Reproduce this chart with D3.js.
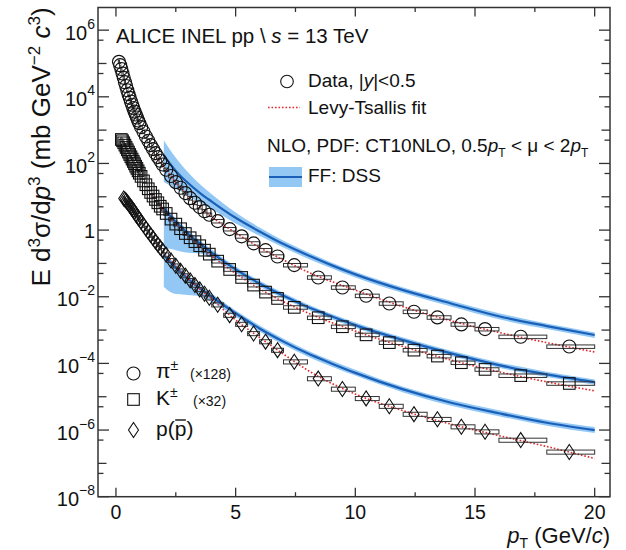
<!DOCTYPE html>
<html>
<head>
<meta charset="utf-8">
<script src="https://cdn.jsdelivr.net/npm/d3@7"></script>
<style>
body { margin: 0; background: #fff; }
svg { font-family: "Liberation Sans", Arial, sans-serif; }
</style>
</head>
<body>
<div id="chart"></div>
<script>
// mean pT of each bin (GeV/c), shared by the three species
const pt = [0.125,0.175,0.225,0.275,0.325,0.375,0.425,0.475,0.525,0.575,0.625,0.675,0.725,0.775,0.825,0.875,0.925,0.975,
  1.05,1.15,1.25,1.35,1.45,1.55,1.65,1.75,1.85,1.95,
  2.1,2.3,2.5,2.7,2.9,3.1,3.3,3.5,3.7,3.9,
  4.25,4.75,5.25,5.75,6.25,6.75,7.45,
  8.45,9.46,10.45,11.42,12.45,13.43,14.43,15.42,16.91,18.94]
const binEdges = [0.1,0.15,0.2,0.25,0.3,0.35,0.4,0.45,0.5,0.55,0.6,0.65,0.7,0.75,0.8,0.85,0.9,0.95,1.0,
  1.1,1.2,1.3,1.4,1.5,1.6,1.7,1.8,1.9,2.0,
  2.2,2.4,2.6,2.8,3.0,3.2,3.4,3.6,3.8,4.0,
  4.5,5.0,5.5,6.0,6.5,7.0,8.0,
  9,10,11,12,13,14,15,16,18,20]

// E d3sigma/dp3 (mb GeV^-2 c^3), already scaled
const pion = [1.12e5,8.9e4,6.8e4,5.0e4,3.7e4,2.75e4,2.1e4,1.58e4,1.2e4,9.3e3,7.2e3,5.75e3,4.6e3,3.6e3,2.95e3,2.4e3,1.95e3,1.62e3,
  1230,890,645,479,355,269,204,155,120,93,
  65,42,27.5,18.6,12.9,9.1,6.6,4.9,3.7,2.9,
  1.86,1.07,0.65,0.40,0.25,0.162,0.089,
  0.038,0.019,0.0107,6.3e-3,3.55e-3,2.4e-3,1.48e-3,1.07e-3,6.3e-4,3.2e-4]
const kaon = [null,null,525,479,417,355,302,257,219,186,158,135,115,98,83,71,60,51,
  41,30,23,17.4,13.5,10.5,8.3,6.6,5.2,4.3,
  3.16,2.14,1.51,1.10,0.79,0.59,0.45,0.34,0.25,0.19,
  0.117,0.066,0.038,0.0224,0.0138,0.0089,4.8e-3,
  2.35e-3,1.26e-3,7.2e-4,4.2e-4,2.5e-4,1.66e-4,1.05e-4,6.6e-5,4.3e-5,2.5e-5]
const proton = [null,null,null,null,8.9,8.3,7.6,6.9,6.2,5.5,4.9,4.4,3.9,3.5,3.0,2.7,2.4,2.14,
  1.78,1.41,1.12,0.89,0.71,0.575,0.457,0.37,0.30,0.245,
  0.182,0.123,0.085,0.060,0.043,0.031,0.0224,0.0166,0.0123,0.0093,
  5.75e-3,2.8e-3,1.5e-3,7.9e-4,4.5e-4,2.5e-4,1.12e-4,
  3.5e-5,1.7e-5,8.9e-6,5.2e-6,3.0e-6,2.1e-6,1.26e-6,8.9e-7,5.0e-7,2.2e-7]
const sysFrac = [0.12, 0.12, 0.14]

// Levy-Tsallis fits
const fitPt = [1.5,2,3,4,5,6,7,8,10,12,14,16,18,20]
const fitPion = [240,79,10.7,2.5,0.83,0.30,0.126,0.056,0.0158,5.0e-3,1.9e-3,8.5e-4,4.2e-4,2.2e-4]
const fitKaon = [11.7,3.9,0.68,0.17,0.05,0.0174,7.1e-3,3.3e-3,9.3e-4,3.2e-4,1.26e-4,5.6e-5,2.8e-5,1.5e-5]
const fitProton = [0.63,0.22,0.036,8.5e-3,2.0e-3,6.0e-4,1.9e-4,6.3e-5,1.2e-5,3.8e-6,1.5e-6,6.8e-7,3.2e-7,1.4e-7]

// NLO (CT10NLO, DSS) central value and scale band
const nloPt = [2,2.25,2.5,3,3.5,4,5,6,7,8,9,10,12,14,16,18,20]
const nloPion = [178,100,60,26.3,13.2,7.2,2.34,0.91,0.38,0.178,0.089,0.047,0.0158,6.3e-3,2.6e-3,1.32e-3,7.1e-4]
const nloPionHi = [500,263,148,55,24,12.0,3.4,1.2,0.48,0.22,0.107,0.056,0.019,7.6e-3,3.2e-3,1.58e-3,8.5e-4]
const nloPionLo = [28,22,17.4,11.0,6.6,4.2,1.58,0.68,0.30,0.141,0.072,0.038,0.0129,5.1e-3,2.1e-3,1.07e-3,5.8e-4]
const nloKaon = [4.5,2.75,1.78,0.79,0.40,0.21,0.066,0.025,0.0107,5.0e-3,2.6e-3,1.41e-3,5.0e-4,2.0e-4,8.9e-5,4.7e-5,2.75e-5]
const nloKaonHi = [5.6,3.5,2.24,1.0,0.5,0.26,0.081,0.030,0.0129,6.0e-3,3.1e-3,1.7e-3,6.0e-4,2.4e-4,1.07e-4,5.6e-5,3.3e-5]
const nloKaonLo = [0.28,0.275,0.25,0.21,0.20,0.148,0.052,0.020,8.9e-3,4.2e-3,2.1e-3,1.17e-3,4.2e-4,1.66e-4,7.4e-5,3.9e-5,2.3e-5]
const nloProton = [0.178,0.112,0.076,0.035,0.018,0.01,3.2e-3,1.12e-3,4.5e-4,2.0e-4,1.0e-4,5.2e-5,1.66e-5,6.6e-6,3.2e-6,1.66e-6,1.0e-6]
const nloProtonHi = [0.224,0.141,0.095,0.045,0.023,0.0126,3.9e-3,1.38e-3,5.5e-4,2.45e-4,1.23e-4,6.5e-5,2.0e-5,8.1e-6,3.9e-6,2.0e-6,1.23e-6]
const nloProtonLo = [0.02,0.0141,0.012,0.0112,0.0102,7.1e-3,2.5e-3,9.1e-4,3.6e-4,1.62e-4,8.1e-5,4.3e-5,1.35e-5,5.4e-6,2.6e-6,1.35e-6,8.1e-7]

// axis ticks
const xTicks = [0,5,10,15,20]
const xMinorTicks = [2.5,7.5,12.5,17.5]
const yLabelExp = [-8,-6,-4,-2,0,2,4,6]

;(function() {
    const width = 626
    const height = 550
    const frame = {left: 98, right: 610, top: 7.5, bottom: 496.7}

    const svg = d3.select("#chart")
        .append("svg")
        .attr("width", width)
        .attr("height", height)

    const x = d3.scaleLinear().domain([-0.75, 20.64]).range([frame.left, frame.right])
    const y = d3.scaleLog().domain([1e-8, Math.pow(10, 6.68)]).range([frame.bottom, frame.top])

    svg.append("clipPath").attr("id", "clip")
        .append("rect")
        .attr("x", frame.left).attr("y", frame.top)
        .attr("width", frame.right - frame.left)
        .attr("height", frame.bottom - frame.top)

    const plot = svg.append("g").attr("clip-path", "url(#clip)")

    const species = [
        {vals: pion, fit: fitPion, nlo: nloPion, hi: nloPionHi, lo: nloPionLo, sym: "circle", sys: sysFrac[0]},
        {vals: kaon, fit: fitKaon, nlo: nloKaon, hi: nloKaonHi, lo: nloKaonLo, sym: "square", sys: sysFrac[1]},
        {vals: proton, fit: fitProton, nlo: nloProton, hi: nloProtonHi, lo: nloProtonLo, sym: "diamond", sys: sysFrac[2]}
    ]

    const bandColor = "#93c8f4"
    const lineColor = "#1a5fb8"
    const fitColor = "#e3262b"

    // NLO bands and central lines
    species.forEach(function(s) {
        const rows = nloPt.map((p, i) => ({p: p, c: s.nlo[i], hi: s.hi[i], lo: s.lo[i]}))
        plot.append("path")
            .datum(rows)
            .attr("fill", bandColor)
            .attr("d", d3.area()
                .curve(d3.curveMonotoneX)
                .x(d => x(d.p))
                .y0(d => y(d.lo))
                .y1(d => y(d.hi)))
        plot.append("path")
            .datum(rows)
            .attr("fill", "none")
            .attr("stroke", lineColor)
            .attr("stroke-width", 2.2)
            .attr("d", d3.line()
                .curve(d3.curveMonotoneX)
                .x(d => x(d.p))
                .y(d => y(d.c)))
    })

    // Levy-Tsallis fits
    species.forEach(function(s) {
        plot.append("path")
            .datum(fitPt.map((p, i) => ({p: p, v: s.fit[i]})))
            .attr("fill", "none")
            .attr("stroke", fitColor)
            .attr("stroke-width", 1.6)
            .attr("stroke-dasharray", "1.6,1.9")
            .attr("d", d3.line()
                .curve(d3.curveMonotoneX)
                .x(d => x(d.p))
                .y(d => y(d.v)))
    })

    // draw one open marker
    function marker(sel, sym, cx, cy) {
        if (sym === "circle") {
            return sel.append("circle").attr("cx", cx).attr("cy", cy).attr("r", 6.5)
        } else if (sym === "square") {
            return sel.append("rect").attr("x", cx - 5.8).attr("y", cy - 5.8).attr("width", 11.6).attr("height", 11.6)
        }
        return sel.append("path").attr("d", `M${cx},${cy - 7.5}L${cx + 5},${cy}L${cx},${cy + 7.5}L${cx - 5},${cy}Z`)
    }

    // data: systematic boxes + markers
    species.forEach(function(s) {
        const pts = pt.map((p, i) => ({p: p, v: s.vals[i], lo: binEdges[i], hi: binEdges[i + 1]}))
            .filter(d => d.v !== null)
        const g = plot.append("g")
        g.selectAll("rect.sys")
            .data(pts)
            .join("rect")
            .attr("class", "sys")
            .attr("x", d => x(d.lo))
            .attr("width", d => x(d.hi) - x(d.lo))
            .attr("y", d => y(d.v * (1 + s.sys)))
            .attr("height", d => y(d.v * (1 - s.sys)) - y(d.v * (1 + s.sys)))
            .attr("fill", "none")
            .attr("stroke", "#333")
            .attr("stroke-width", 1)
        const mg = plot.append("g")
            .attr("fill", "none")
            .attr("stroke", "#111")
            .attr("stroke-width", 1.1)
        pts.forEach(d => marker(mg, s.sym, x(d.p), y(d.v)))
    })

    // frame
    svg.append("rect")
        .attr("x", frame.left).attr("y", frame.top)
        .attr("width", frame.right - frame.left)
        .attr("height", frame.bottom - frame.top)
        .attr("fill", "none")
        .attr("stroke", "#333")
        .attr("stroke-width", 1.5)

    const ticks = svg.append("g").attr("stroke", "#333").attr("stroke-width", 1.3)

    // x ticks, bottom and top, pointing inwards
    xTicks.forEach(function(t) {
        ticks.append("line").attr("x1", x(t)).attr("x2", x(t)).attr("y1", frame.bottom).attr("y2", frame.bottom - 9)
        ticks.append("line").attr("x1", x(t)).attr("x2", x(t)).attr("y1", frame.top).attr("y2", frame.top + 9)
    })
    xMinorTicks.forEach(function(t) {
        ticks.append("line").attr("x1", x(t)).attr("x2", x(t)).attr("y1", frame.bottom).attr("y2", frame.bottom - 4.5)
        ticks.append("line").attr("x1", x(t)).attr("x2", x(t)).attr("y1", frame.top).attr("y2", frame.top + 4.5)
    })

    // y ticks: every decade plus 5 x 10^n
    const yMax = y.domain()[1]
    for (let e = -8; e <= 6; e++) {
        const len = (e % 2 === 0) ? 11 : 8.5
        const yy = y(Math.pow(10, e))
        ticks.append("line").attr("x1", frame.left).attr("x2", frame.left + len).attr("y1", yy).attr("y2", yy)
        ticks.append("line").attr("x1", frame.right).attr("x2", frame.right - len).attr("y1", yy).attr("y2", yy)
        const half = 5 * Math.pow(10, e)
        if (half < yMax) {
            const yh = y(half)
            ticks.append("line").attr("x1", frame.left).attr("x2", frame.left + 5.5).attr("y1", yh).attr("y2", yh)
            ticks.append("line").attr("x1", frame.right).attr("x2", frame.right - 5.5).attr("y1", yh).attr("y2", yh)
        }
    }

    // tick labels
    svg.append("g")
        .selectAll("text")
        .data(xTicks)
        .join("text")
        .attr("x", d => x(d))
        .attr("y", 518.5)
        .attr("text-anchor", "middle")
        .attr("font-size", 19.5)
        .attr("fill", "#111")
        .text(d => d)

    yLabelExp.forEach(function(e) {
        const yy = y(Math.pow(10, e))
        const t = svg.append("text")
            .attr("x", 95)
            .attr("text-anchor", "end")
            .attr("font-size", 20)
            .attr("fill", "#111")
        if (e === 0) {
            t.attr("y", yy + 8).text("1")
        } else {
            t.attr("y", yy + 9.5)
            t.append("tspan").text("10")
            t.append("tspan").attr("font-size", 14).attr("dy", -11).text(e < 0 ? "\u2212" + (-e) : e)
        }
    })

    // axis titles
    const xt = svg.append("text")
        .attr("x", 610).attr("y", 543)
        .attr("text-anchor", "end")
        .attr("font-size", 22)
        .attr("fill", "#111")
    xt.append("tspan").attr("font-style", "italic").text("p")
    xt.append("tspan").attr("font-size", 14).attr("dy", 5).text("T")
    xt.append("tspan").attr("dy", -5).text(" (GeV/")
    xt.append("tspan").attr("font-style", "italic").text("c")
    xt.append("tspan").text(")")

    const yt = svg.append("text")
        .attr("transform", "translate(50,147) rotate(-90)")
        .attr("text-anchor", "middle")
        .attr("font-size", 26)
        .attr("fill", "#111")
    yt.append("tspan").text("E d")
    yt.append("tspan").attr("font-size", 17).attr("dy", -10).text("3")
    yt.append("tspan").attr("dy", 10).text("\u03c3/d")
    yt.append("tspan").attr("font-style", "italic").text("p")
    yt.append("tspan").attr("font-size", 17).attr("dy", -10).text("3")
    yt.append("tspan").attr("dy", 10).text(" (mb GeV")
    yt.append("tspan").attr("font-size", 17).attr("dy", -10).text("\u22122")
    yt.append("tspan").attr("dy", 10).text(" ")
    yt.append("tspan").attr("font-style", "italic").text("c")
    yt.append("tspan").attr("font-size", 17).attr("dy", -10).text("3")
    yt.append("tspan").attr("dy", 10).text(")")

    // header
    const hd = svg.append("text")
        .attr("x", 116).attr("y", 43)
        .attr("font-size", 20.5)
        .attr("fill", "#111")
    hd.append("tspan").text("ALICE INEL pp ")
    hd.append("tspan").text("\\")
    hd.append("tspan").attr("font-style", "italic").text(" s")
    hd.append("tspan").text(" = 13 TeV")

    // legend (top right)
    const lg = svg.append("g").attr("font-size", 19).attr("fill", "#111")
    lg.append("circle").attr("cx", 287).attr("cy", 81.5).attr("r", 6.3)
        .attr("fill", "none").attr("stroke", "#111").attr("stroke-width", 1.1)
    const l1 = lg.append("text").attr("x", 308).attr("y", 87)
    l1.append("tspan").text("Data, |")
    l1.append("tspan").attr("font-style", "italic").text("y")
    l1.append("tspan").text("|<0.5")

    lg.append("line").attr("x1", 268).attr("x2", 300).attr("y1", 107.5).attr("y2", 107.5)
        .attr("stroke", fitColor).attr("stroke-width", 1.6).attr("stroke-dasharray", "1.6,1.9")
    lg.append("text").attr("x", 308).attr("y", 114).text("Levy-Tsallis fit")

    const l3 = lg.append("text").attr("x", 267).attr("y", 152)
    l3.append("tspan").text("NLO, PDF: CT10NLO, 0.5")
    l3.append("tspan").attr("font-style", "italic").text("p")
    l3.append("tspan").attr("font-size", 12).attr("dy", 5).text("T")
    l3.append("tspan").attr("dy", -5).text(" < \u03bc < 2")
    l3.append("tspan").attr("font-style", "italic").text("p")
    l3.append("tspan").attr("font-size", 12).attr("dy", 5).text("T")

    lg.append("rect").attr("x", 269).attr("y", 167).attr("width", 33).attr("height", 20).attr("fill", bandColor)
    lg.append("line").attr("x1", 269).attr("x2", 302).attr("y1", 177).attr("y2", 177)
        .attr("stroke", lineColor).attr("stroke-width", 2.2)
    lg.append("text").attr("x", 308).attr("y", 182).text("FF: DSS")

    // species legend (bottom left)
    const sl = svg.append("g").attr("fill", "#111")
    const symG = sl.append("g").attr("fill", "none").attr("stroke", "#111").attr("stroke-width", 1.1)
    marker(symG, "circle", 133.5, 373.5)
    marker(symG, "square", 133.5, 399.5)
    marker(symG, "diamond", 133.5, 430)

    const s1 = sl.append("text").attr("x", 156).attr("y", 378).attr("font-size", 21)
    s1.append("tspan").text("\u03c0")
    s1.append("tspan").attr("font-size", 14).attr("dy", -8).text("\u00b1")
    sl.append("text").attr("x", 190).attr("y", 379).attr("font-size", 14).text("(\u00d7128)")

    const s2 = sl.append("text").attr("x", 156).attr("y", 405).attr("font-size", 21)
    s2.append("tspan").text("K")
    s2.append("tspan").attr("font-size", 14).attr("dy", -8).text("\u00b1")
    sl.append("text").attr("x", 193).attr("y", 406).attr("font-size", 14).text("(\u00d732)")

    // p(pbar): overline drawn as a short line over the second p
    const pre = sl.append("text").attr("x", 156).attr("y", 436).attr("font-size", 21).text("p(")
    const w1 = pre.node().getComputedTextLength()
    const mid = sl.append("text").attr("x", 156 + w1).attr("y", 436).attr("font-size", 21).text("p")
    const w2 = mid.node().getComputedTextLength()
    sl.append("text").attr("x", 156 + w1 + w2).attr("y", 436).attr("font-size", 21).text(")")
    sl.append("line")
        .attr("x1", 156 + w1 + 0.5).attr("x2", 156 + w1 + w2 - 0.5)
        .attr("y1", 420).attr("y2", 420)
        .attr("stroke", "#111").attr("stroke-width", 1.4)
})();
</script>
</body>
</html>
